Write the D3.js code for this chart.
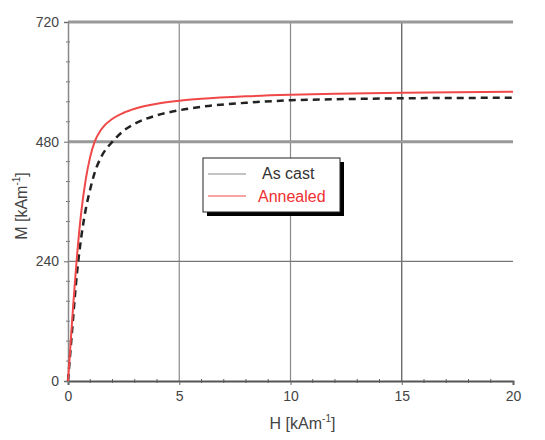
<!DOCTYPE html>
<html>
<head>
<meta charset="utf-8">
<script src="https://cdnjs.cloudflare.com/ajax/libs/d3/7.8.5/d3.min.js"></script>
<style>
  body { margin: 0; background: #fff; }
  text { font-family: Arial, "Liberation Sans", sans-serif; }
</style>
</head>
<body>
<div id="chart"></div>
<script>
var svgWidth = 545;
var svgHeight = 440;

var margin = { top: 22, right: 32, bottom: 59, left: 68 };
var width = svgWidth - margin.left - margin.right;
var height = svgHeight - margin.top - margin.bottom;

// data
var fieldH = [0, 0.1, 0.2, 0.3, 0.4, 0.5, 0.6, 0.8, 1.0, 1.2, 1.5, 2, 2.5, 3, 4, 5, 6, 8, 10, 12, 15, 20];
var asCast = [0, 55, 110, 165, 215, 255, 290, 345, 385, 418, 450, 480, 502, 516, 533, 543, 550, 558, 563, 565, 567, 568];
var annealed = [0, 65, 130, 192, 248, 298, 340, 405, 450, 480, 505, 526, 538, 546, 556, 562, 566, 571, 574, 576, 578, 580];
var xTicks = [0, 5, 10, 15, 20];
var yTicks = [0, 240, 480, 720];
var seriesNames = ["As cast", "Annealed"];

var svg = d3.select("#chart")
  .append("svg")
  .attr("width", svgWidth)
  .attr("height", svgHeight);

var chartGroup = svg.append("g")
  .attr("transform", `translate(${margin.left}, ${margin.top})`);

var xScale = d3.scaleLinear().domain([0, 20]).range([0, width]);
var yScale = d3.scaleLinear().domain([0, 720]).range([height, 0]);

// grid lines
chartGroup.selectAll(".vgrid")
  .data([5, 10, 15])
  .join("line")
  .attr("x1", d => xScale(d))
  .attr("x2", d => xScale(d))
  .attr("y1", 0)
  .attr("y2", height)
  .attr("stroke", d => d === 15 ? "#555" : "#8a8a8a")
  .attr("stroke-width", 1.2);

chartGroup.selectAll(".hgrid")
  .data([240, 480, 720])
  .join("line")
  .attr("x1", 0)
  .attr("x2", width)
  .attr("y1", d => yScale(d))
  .attr("y2", d => yScale(d))
  .attr("stroke", d => d === 240 ? "#777" : "#999")
  .attr("stroke-width", d => d === 240 ? 1.2 : 3);

// minor ticks
var xMinor = d3.range(1, 20).filter(d => d % 5 !== 0);
var yMinor = d3.range(40, 720, 40).filter(d => d % 240 !== 0);

chartGroup.selectAll(".xminor")
  .data(xMinor)
  .join("line")
  .attr("x1", d => xScale(d))
  .attr("x2", d => xScale(d))
  .attr("y1", height - 2)
  .attr("y2", height + 2)
  .attr("stroke", "#666");

chartGroup.selectAll(".yminor")
  .data(yMinor)
  .join("line")
  .attr("x1", -2)
  .attr("x2", 2)
  .attr("y1", d => yScale(d))
  .attr("y2", d => yScale(d))
  .attr("stroke", "#777");

// axes
var bottomAxis = d3.axisBottom(xScale).tickValues(xTicks).tickSize(4).tickPadding(6);
var leftAxis = d3.axisLeft(yScale).tickValues(yTicks).tickSize(4).tickPadding(5);

var xAxis = chartGroup.append("g")
  .attr("transform", `translate(0, ${height})`)
  .call(bottomAxis);
xAxis.select(".domain").attr("stroke", "#555").attr("stroke-width", 2);

var yAxis = chartGroup.append("g").call(leftAxis);
yAxis.select(".domain").attr("stroke", "#888").attr("stroke-width", 1.5);

chartGroup.selectAll(".tick text")
  .attr("font-size", "14px")
  .attr("fill", "#444");
chartGroup.selectAll(".tick line").attr("stroke", "#666");

// curves
var line = d3.line()
  .x(d => xScale(d[0]))
  .y(d => yScale(d[1]))
  .curve(d3.curveMonotoneX);

chartGroup.append("path")
  .datum(fieldH.map((h, i) => [h, asCast[i]]))
  .attr("d", line)
  .attr("fill", "none")
  .attr("stroke", "#222")
  .attr("stroke-width", 2.5)
  .attr("stroke-dasharray", "7,5");

chartGroup.append("path")
  .datum(fieldH.map((h, i) => [h, annealed[i]]))
  .attr("d", line)
  .attr("fill", "none")
  .attr("stroke", "#f04848")
  .attr("stroke-width", 2);

// legend
var legend = svg.append("g").attr("transform", "translate(203, 158)");
legend.append("rect")
  .attr("x", 4).attr("y", 4)
  .attr("width", 137).attr("height", 54)
  .attr("fill", "#000");
legend.append("rect")
  .attr("width", 137).attr("height", 54)
  .attr("fill", "#fff")
  .attr("stroke", "#222");

var legendColors = ["#888", "#f04848"];
var textColors = ["#333", "#f03030"];
seriesNames.forEach((name, i) => {
  legend.append("line")
    .attr("x1", 5).attr("x2", 43)
    .attr("y1", 16 + i * 22).attr("y2", 16 + i * 22)
    .attr("stroke", legendColors[i]);
  legend.append("text")
    .attr("x", i === 0 ? 59 : 55)
    .attr("y", 21 + i * 23)
    .attr("font-size", "16px")
    .attr("fill", textColors[i])
    .text(name);
});

// axis titles
var xTitle = svg.append("text")
  .attr("x", margin.left + width / 2 + 12)
  .attr("y", 429)
  .attr("text-anchor", "middle")
  .attr("font-size", "16px")
  .attr("fill", "#444");
xTitle.append("tspan").text("H [kAm");
xTitle.append("tspan").attr("dy", -7).attr("font-size", "10px").text("-1");
xTitle.append("tspan").attr("dy", 7).text("]");

var yTitle = svg.append("text")
  .attr("transform", `translate(27, 206) rotate(-90)`)
  .attr("text-anchor", "middle")
  .attr("font-size", "16px")
  .attr("fill", "#444");
yTitle.append("tspan").text("M [kAm");
yTitle.append("tspan").attr("dy", -7).attr("font-size", "10px").text("-1");
yTitle.append("tspan").attr("dy", 7).text("]");
</script>
</body>
</html>
